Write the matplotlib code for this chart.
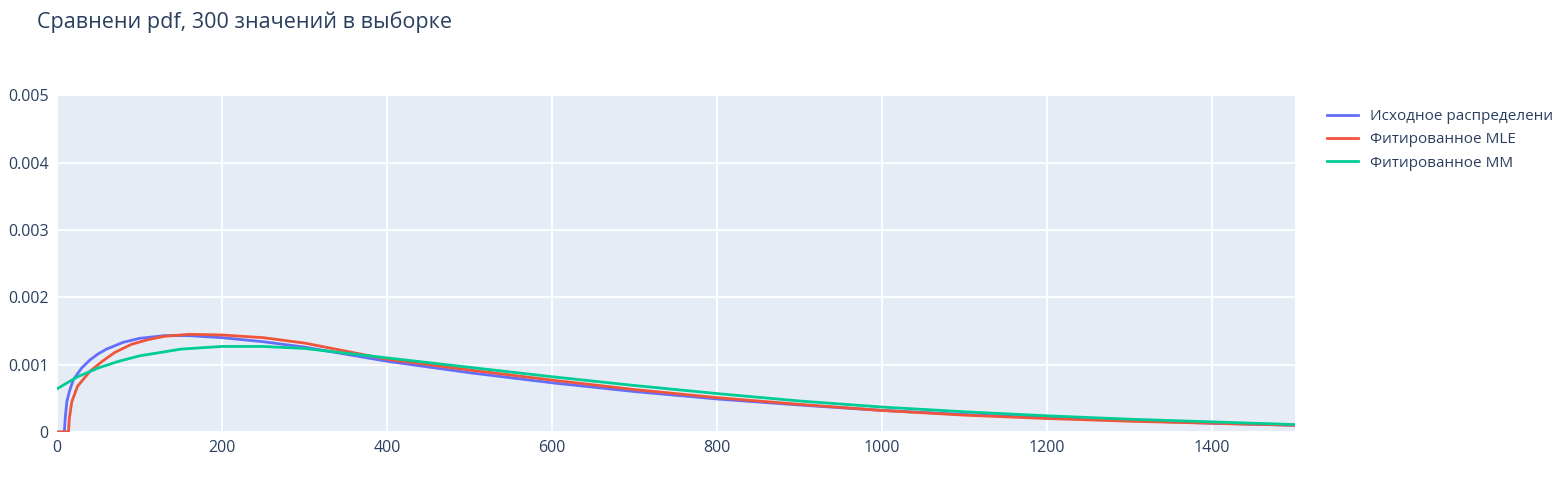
import matplotlib
matplotlib.use("Agg")
import matplotlib.pyplot as plt

x_blue = [0, 9, 10, 12, 15, 20, 30, 40, 50, 60, 80, 100, 130, 160, 200, 250, 300, 400, 500, 600, 700, 800, 900, 1000, 1100, 1200, 1300, 1400, 1500]
y_blue = [0, 0, 0.0002, 0.00045, 0.0006, 0.00078, 0.00095, 0.00107, 0.00116, 0.00123, 0.00133, 0.00139, 0.00143, 0.00143, 0.0014, 0.00134, 0.00126, 0.00105, 0.00088, 0.00073, 0.0006, 0.00049, 0.0004, 0.00032, 0.00026, 0.00021, 0.00017, 0.00013, 0.0001]
x_red = [0, 14, 15, 18, 25, 40, 55, 70, 90, 110, 130, 160, 200, 250, 300, 400, 500, 600, 700, 800, 900, 1000, 1100, 1200, 1300, 1400, 1500]
y_red = [0, 0, 0.0002, 0.00045, 0.00068, 0.0009, 0.00105, 0.00118, 0.0013, 0.00137, 0.00142, 0.00145, 0.00144, 0.0014, 0.00132, 0.00108, 0.00092, 0.00077, 0.00063, 0.00051, 0.00041, 0.00032, 0.00025, 0.0002, 0.00016, 0.00013, 0.0001]
x_green = [0, 25, 50, 75, 100, 150, 200, 250, 300, 400, 500, 600, 700, 800, 900, 1000, 1100, 1200, 1300, 1400, 1500]
y_green = [0.00064, 0.00082, 0.00095, 0.00105, 0.00113, 0.00123, 0.00127, 0.00127, 0.00124, 0.0011, 0.00096, 0.00082, 0.00069, 0.00057, 0.00046, 0.00037, 0.0003, 0.00024, 0.00019, 0.00015, 0.00011]
labels = ["Исходное распределени", "Фитированное MLE", "Фитированное MM"]
xticks = [0, 200, 400, 600, 800, 1000, 1200, 1400]
yticks = [0, 0.001, 0.002, 0.003, 0.004, 0.005]
ytick_labels = ["0", "0.001", "0.002", "0.003", "0.004", "0.005"]

plt.rcParams['font.family'] = ['Open Sans', 'DejaVu Sans']
fig = plt.figure(figsize=(15.6, 4.83), dpi=100)
ax = fig.add_axes([0.0365, 0.1056, 0.7935, 0.6974])
ax.set_facecolor('#E5ECF6')
for s in ax.spines.values():
    s.set_visible(False)
ax.grid(color='white', linewidth=1.3)
ax.set_axisbelow(True)
ax.plot(x_blue, y_blue, color='#636EFA', lw=2, label=labels[0])
ax.plot(x_red, y_red, color='#EF553B', lw=2, label=labels[1])
ax.plot(x_green, y_green, color='#00CC96', lw=2, label=labels[2])
ax.set_xlim(0, 1500)
ax.set_ylim(0, 0.005)
ax.set_xticks(xticks)
ax.set_yticks(yticks)
ax.set_yticklabels(ytick_labels)
ax.tick_params(length=0, labelsize=11.5, colors='#2a3f5f', pad=6)
fig.text(0.024, 0.955, "Сравнени pdf, 300 значений в выборке", fontsize=15.5, color='#2a3f5f', va='center')
leg = ax.legend(loc='upper left', bbox_to_anchor=(1.015, 1.0), frameon=False, fontsize=11,
                handlelength=2, labelspacing=0.55)
for t in leg.get_texts():
    t.set_color('#2a3f5f')
fig.savefig("out.png")
